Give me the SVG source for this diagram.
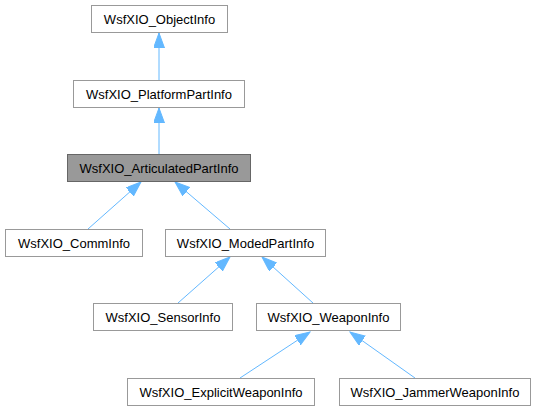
<svg xmlns="http://www.w3.org/2000/svg" width="536" height="411" viewBox="0 0 536 411">
<defs>
<style>
.n rect{fill:#ffffff;stroke:#999999;stroke-width:1}
.n.hl rect{fill:#999999;stroke:#666666}
.n text{font-family:"Liberation Sans",Arial,sans-serif;font-size:13px;fill:#000000;text-anchor:middle}
.e line{stroke:#63b8ff;stroke-width:1;fill:none;marker-end:url(#ah)}
</style>
<marker id="ah" markerUnits="userSpaceOnUse" markerWidth="16" markerHeight="12" refX="15" refY="5.5" orient="auto">
<path d="M0,0 L15,5.5 L0,11 z" fill="#63b8ff" stroke="#63b8ff" stroke-width="1"/>
</marker>
</defs>
<rect width="536" height="411" fill="#ffffff"/>
<g id="edges" class="e">
<line x1="159" y1="80" x2="159" y2="33"/>
<line x1="159" y1="154" x2="159" y2="108"/>
<line x1="88" y1="229" x2="141" y2="182"/>
<line x1="230" y1="229" x2="175" y2="182"/>
<line x1="178" y1="303" x2="230" y2="257"/>
<line x1="313" y1="303" x2="262" y2="257"/>
<line x1="240" y1="378" x2="310" y2="332"/>
<line x1="415" y1="378" x2="350" y2="332"/>
</g>
<g id="node_ObjectInfo" class="n"><rect x="91.5" y="5.5" width="136" height="27"/><text x="159.5" y="23.5">WsfXIO_ObjectInfo</text></g>
<g id="node_PlatformPartInfo" class="n"><rect x="73.5" y="80.5" width="171" height="27"/><text x="159" y="98.5">WsfXIO_PlatformPartInfo</text></g>
<g id="node_ArticulatedPartInfo" class="n hl"><rect x="67.5" y="154.5" width="183" height="27"/><text x="159" y="172.5">WsfXIO_ArticulatedPartInfo</text></g>
<g id="node_CommInfo" class="n"><rect x="5.5" y="229.5" width="137" height="27"/><text x="74" y="247.5">WsfXIO_CommInfo</text></g>
<g id="node_ModedPartInfo" class="n"><rect x="165.5" y="229.5" width="160" height="27"/><text x="245.5" y="247.5">WsfXIO_ModedPartInfo</text></g>
<g id="node_SensorInfo" class="n"><rect x="93.5" y="303.5" width="139" height="27"/><text x="163" y="321.5">WsfXIO_SensorInfo</text></g>
<g id="node_WeaponInfo" class="n"><rect x="256.5" y="303.5" width="144" height="27"/><text x="328.5" y="321.5">WsfXIO_WeaponInfo</text></g>
<g id="node_ExplicitWeaponInfo" class="n"><rect x="127.5" y="378.5" width="187" height="27"/><text x="221" y="396.5">WsfXIO_ExplicitWeaponInfo</text></g>
<g id="node_JammerWeaponInfo" class="n"><rect x="339.5" y="378.5" width="191" height="27"/><text x="435" y="396.5">WsfXIO_JammerWeaponInfo</text></g>
</svg>
